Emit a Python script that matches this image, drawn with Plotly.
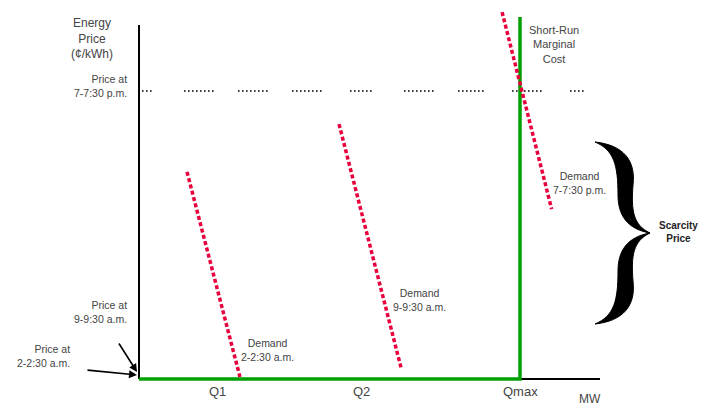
import plotly.graph_objects as go

# ---- data (MW on x, price on y; Qmax = 100, price at 7-7:30 pm = 100) ----
q_labels = ["Q1", "Q2", "Qmax"]
q_values = [20.5, 58.5, 100.0]
q_max = 100.0
price_evening = 100.0
supply_top = 125.7
y_axis_top = 122.9
x_axis_end = 121.0

demand_names = ["Demand<br>2-2:30 a.m.", "Demand<br>9-9:30 a.m.", "Demand<br>7-7:30 p.m."]
demand_x = [[12.6, 26.5], [52.5, 68.8], [95.3, 108.3]]
demand_y = [[71.9, 0.7], [88.5, 3.8], [127.4, 59.0]]

# axis scale (px per unit) and ranges
SX, SY = 3.81, 2.88
X0PX, Y0PX = 139, 379
W, H = 701, 406
xr = [-X0PX / SX, (W - X0PX) / SX]
yr = [-(H - Y0PX) / SY, Y0PX / SY]

def to_data(px, py):
    return (px - X0PX) / SX, (Y0PX - py) / SY

TXT = "#444444"
FONT = "Liberation Sans, Arial, sans-serif"
GREEN = "#00a000"
RED = "#e8003c"

fig = go.Figure()

# axes lines
fig.add_trace(go.Scatter(x=[0, 0], y=[0, y_axis_top], mode="lines",
                         line=dict(color="black", width=2), hoverinfo="skip"))
fig.add_trace(go.Scatter(x=[0, x_axis_end], y=[0, 0], mode="lines",
                         line=dict(color="black", width=2), hoverinfo="skip"))

# dotted price line at 7-7:30 pm (grouped dots)
groups = [(142, 153), (184, 215), (238, 269), (292, 323), (350, 373),
          (404, 435), (458, 485), (512, 543), (570, 586)]
dash = []
for i, (s, e) in enumerate(groups):
    k = max(1, int((e - s + 2.5) / 4))
    for _ in range(k):
        dash += [1.6, 2.4]
    if i + 1 < len(groups):
        dash[-1] += groups[i + 1][0] - (s + 4 * k)
    else:
        dash[-1] += 40
dash_str = ",".join(f"{d:.1f}px" for d in dash)
dx0, _ = to_data(groups[0][0], 0)
dx1, _ = to_data(groups[-1][1], 0)
fig.add_trace(go.Scatter(x=[dx0, dx1], y=[price_evening, price_evening], mode="lines",
                         line=dict(color="black", width=1.6, dash=dash_str), hoverinfo="skip"))

# supply (short-run marginal cost)
fig.add_trace(go.Scatter(x=[0, q_max, q_max], y=[0, 0, supply_top], mode="lines",
                         line=dict(color=GREEN, width=3.5), hoverinfo="skip"))

# demand curves
for dxs, dys in zip(demand_x, demand_y):
    fig.add_trace(go.Scatter(x=dxs, y=dys, mode="lines",
                             line=dict(color=RED, width=3.5, dash="4px,2.5px"), hoverinfo="skip"))

# curly brace (scarcity price)
def brace_path():
    top = [(595, 142), (623, 145), (636, 160), (633, 185), (631, 210), (633, 225), (650, 233),
           (627, 229), (618, 215), (618, 195), (618, 165), (614, 150), (595, 142)]
    cy = 233
    bot = [(x, 2 * cy - y) for (x, y) in top]
    def seg(pts):
        d = [to_data(*p) for p in pts]
        s = f"M {d[0][0]:.3f},{d[0][1]:.3f} "
        for j in range(1, len(d), 3):
            a, b, c = d[j], d[j + 1], d[j + 2]
            s += f"C {a[0]:.3f},{a[1]:.3f} {b[0]:.3f},{b[1]:.3f} {c[0]:.3f},{c[1]:.3f} "
        return s + "Z "
    return seg(top) + seg(bot)

fig.add_shape(type="path", path=brace_path(), xref="x", yref="y",
              fillcolor="black", line=dict(color="black", width=1))

def label(x, y, text, size=10.5, xanchor="center", align="center", bold=False, color=TXT):
    fig.add_annotation(x=x, y=y, xref="x", yref="y", text=f"<b>{text}</b>" if bold else text,
                       showarrow=False, xanchor=xanchor, yanchor="middle", align=align,
                       font=dict(family=FONT, size=size, color=color))

label(-12.3, 118.4, "Energy<br>Price<br>(¢/kWh)", size=12)
label(-2.6, 101.7, "Price at<br>7-7:30 p.m.", xanchor="right", align="right")
label(-2.6, 23.3, "Price at<br>9-9:30 a.m.", xanchor="right", align="right")
label(-17.6, 8.0, "Price at<br>2-2:30 a.m.", xanchor="right", align="right")
label(33.6, 10.1, demand_names[0])
label(73.5, 27.4, demand_names[1])
label(115.7, 68.0, demand_names[2])
label(108.9, 116.0, "Short-Run<br>Marginal<br>Cost", size=11)
label(141.5, 51.0, "Scarcity<br>Price", size=10, bold=True, color="#222222")
for name, q in zip(q_labels, q_values):
    label(q, -4.5, name, size=13)
label(118.4, -7.0, "MW", size=12)

# arrows pointing at origin price
for (tx, ty), (hx, hy) in [((86, 370), (137, 375)), ((118, 342), (137, 372))]:
    ax, ay = to_data(tx, ty)
    hx_, hy_ = to_data(hx, hy)
    fig.add_annotation(x=hx_, y=hy_, ax=ax, ay=ay, xref="x", yref="y", axref="x", ayref="y",
                       showarrow=True, arrowhead=2, arrowsize=1, arrowwidth=1.6,
                       arrowcolor="black", text="")

fig.update_layout(width=W, height=H, margin=dict(l=0, r=0, t=0, b=0, pad=0),
                  paper_bgcolor="white", plot_bgcolor="white", showlegend=False,
                  xaxis=dict(range=xr, visible=False, fixedrange=True),
                  yaxis=dict(range=yr, visible=False, fixedrange=True))

fig.write_html("out.html", config={"displayModeBar": False},
               post_script="document.body.style.margin='0';")
